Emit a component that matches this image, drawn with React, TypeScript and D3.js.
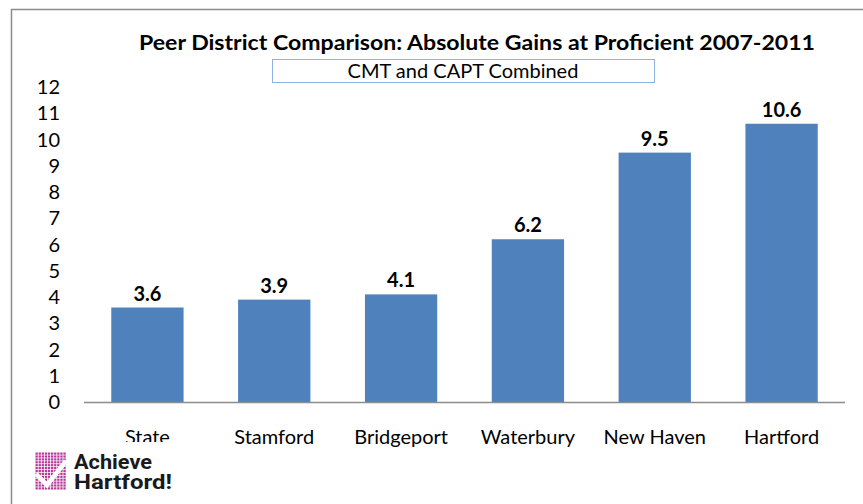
import React, { useEffect, useRef } from 'react';
import * as d3 from 'd3';

const districts = ['State', 'Stamford', 'Bridgeport', 'Waterbury', 'New Haven', 'Hartford'];
const gains = [3.6, 3.9, 4.1, 6.2, 9.5, 10.6];
const yTicks = [0, 1, 2, 3, 4, 5, 6, 7, 8, 9, 10, 11, 12];

const W = 863;
const H = 504;

const App: React.FC = () => {
  const ref = useRef<SVGSVGElement | null>(null);

  useEffect(() => {
    if (!ref.current) return;
    const svg = d3.select(ref.current);
    svg.selectAll('*').remove();

    const font = 'Lato, "Open Sans", sans-serif';

    // outer frame (only top and left edges visible)
    svg.append('path')
      .attr('d', `M11.5,${H} L11.5,9.5 L${W},9.5`)
      .attr('fill', 'none')
      .attr('stroke', '#8c8c8c')
      .attr('stroke-width', 1.5);

    const x = d3.scaleBand()
      .domain(districts)
      .range([84, 845])
      .paddingInner(0.43)
      .paddingOuter(0.215);

    const y = d3.scaleLinear().domain([0, 12]).range([402, 87]);

    // title
    svg.append('text')
      .attr('x', 477)
      .attr('y', 50)
      .attr('text-anchor', 'middle')
      .attr('font-family', font)
      .attr('font-weight', 'bold')
      .attr('font-size', 21)
      .attr('textLength', 676)
      .attr('lengthAdjust', 'spacingAndGlyphs')
      .text('Peer District Comparison:  Absolute Gains at Proficient 2007-2011');

    // subtitle box
    svg.append('rect')
      .attr('x', 272.5).attr('y', 59.5)
      .attr('width', 382).attr('height', 23)
      .attr('fill', '#fff')
      .attr('stroke', '#8db3e2')
      .attr('stroke-width', 1);
    svg.append('text')
      .attr('x', 463)
      .attr('y', 78)
      .attr('text-anchor', 'middle')
      .attr('font-family', font)
      .attr('font-size', 20)
      .text('CMT and CAPT Combined');

    // y tick labels
    svg.append('g')
      .selectAll('text')
      .data(yTicks)
      .enter()
      .append('text')
      .attr('x', 60)
      .attr('y', d => y(d))
      .attr('dy', '0.36em')
      .attr('text-anchor', 'end')
      .attr('font-family', font)
      .attr('font-size', 20)
      .text(d => d);

    // bars
    svg.append('g')
      .selectAll('rect')
      .data(gains)
      .enter()
      .append('rect')
      .attr('x', (d, i) => x(districts[i]) || 0)
      .attr('y', d => y(d))
      .attr('width', x.bandwidth())
      .attr('height', d => y(0) - y(d))
      .attr('fill', '#4f81bd');

    // value labels
    svg.append('g')
      .selectAll('text')
      .data(gains)
      .enter()
      .append('text')
      .attr('x', (d, i) => (x(districts[i]) || 0) + x.bandwidth() / 2)
      .attr('y', d => y(d) - 7)
      .attr('text-anchor', 'middle')
      .attr('font-family', font)
      .attr('font-weight', 'bold')
      .attr('font-size', 20)
      .text(d => d.toFixed(1));

    // baseline
    svg.append('line')
      .attr('x1', 84).attr('x2', 845)
      .attr('y1', y(0) + 0.5).attr('y2', y(0) + 0.5)
      .attr('stroke', '#8c8c8c')
      .attr('stroke-width', 1.5);

    // category labels
    svg.append('g')
      .selectAll('text')
      .data(districts)
      .enter()
      .append('text')
      .attr('x', d => (x(d) || 0) + x.bandwidth() / 2)
      .attr('y', 444)
      .attr('text-anchor', 'middle')
      .attr('font-family', font)
      .attr('font-size', 20)
      .text(d => d);

    // logo (white backing clips the "State" label like the original image)
    const logo = svg.append('g');
    logo.append('rect')
      .attr('x', 30).attr('y', 442)
      .attr('width', 150).attr('height', 55)
      .attr('fill', '#fff');

    const dots: [number, number][] = [];
    for (let r = 0; r < 13; r++) {
      for (let c = 0; c < 10; c++) dots.push([35.5 + c * 3.1, 452.5 + r * 2.9]);
    }
    logo.append('g')
      .selectAll('rect')
      .data(dots)
      .enter()
      .append('rect')
      .attr('x', d => d[0])
      .attr('y', d => d[1])
      .attr('width', 2.3)
      .attr('height', 2.2)
      .attr('fill', '#b8389c');
    logo.append('path')
      .attr('d', 'M36,474 L47,485 L66,461')
      .attr('fill', 'none')
      .attr('stroke', '#fff')
      .attr('stroke-width', 4.5);

    logo.append('text')
      .attr('x', 74).attr('y', 469)
      .attr('font-family', 'Roboto, "Open Sans", sans-serif')
      .attr('font-weight', 'bold')
      .attr('font-size', 21)
      .attr('textLength', 78)
      .attr('lengthAdjust', 'spacingAndGlyphs')
      .attr('fill', '#1a1a1a')
      .text('Achieve');
    logo.append('text')
      .attr('x', 74).attr('y', 489)
      .attr('font-family', 'Roboto, "Open Sans", sans-serif')
      .attr('font-weight', 'bold')
      .attr('font-size', 21)
      .attr('textLength', 98)
      .attr('lengthAdjust', 'spacingAndGlyphs')
      .attr('fill', '#1a1a1a')
      .text('Hartford!');
  }, []);

  return (
    <svg
      ref={ref}
      width={W}
      height={H}
      style={{ position: 'absolute', left: 0, top: 0, background: '#fff' }}
    />
  );
};

export default App;
